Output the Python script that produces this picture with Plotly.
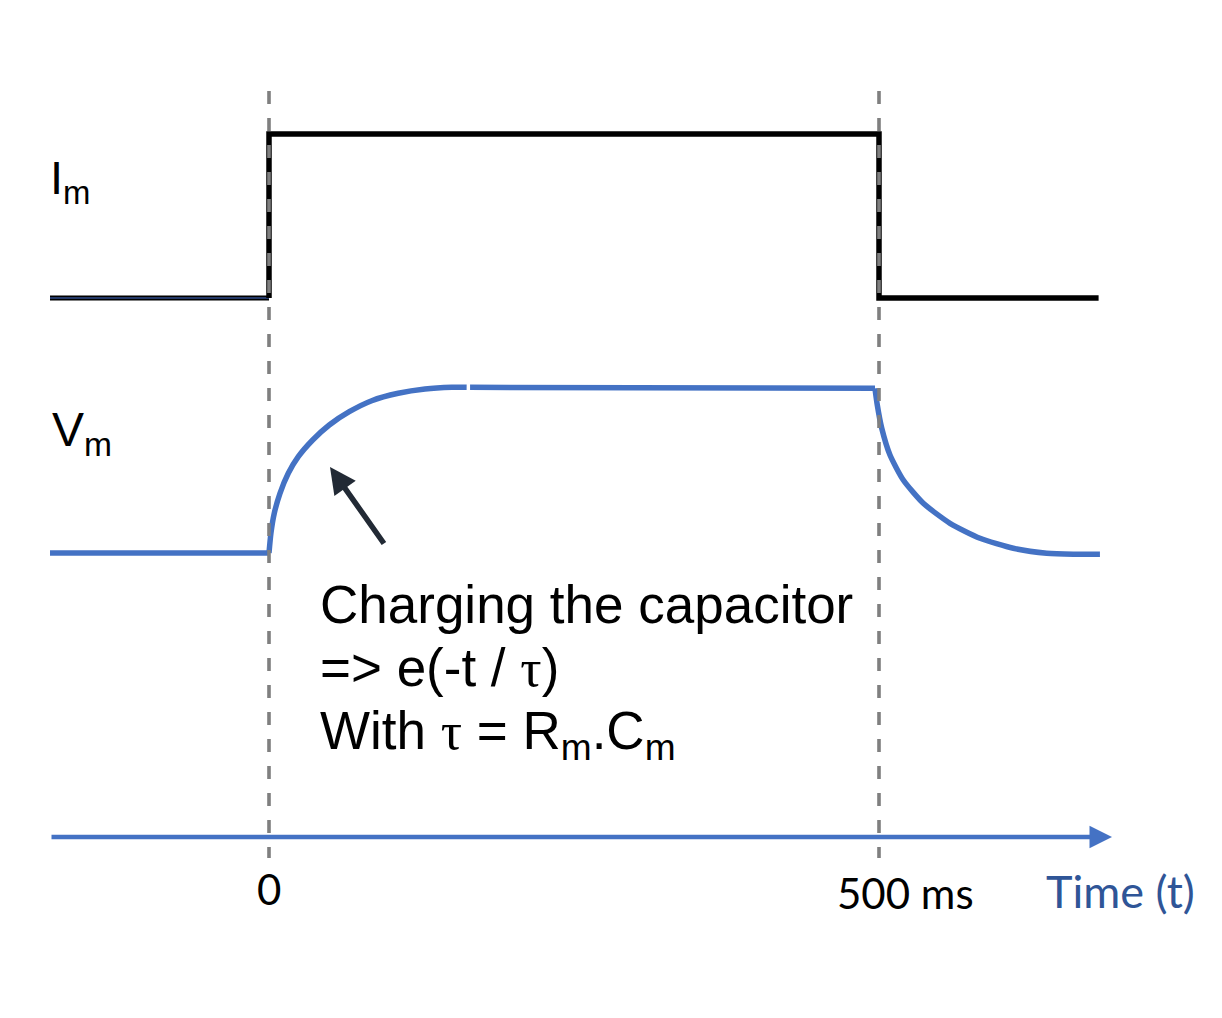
import plotly.graph_objects as go

# ---------------- data (time in ms, levels in drawing units) ----------------
I_TIME = [-179.5, 0, 0, 500, 500, 680]
I_LEVEL = [720, 720, 884, 884, 720, 720]

V_PRE_TIME = [-179.5, 0]
V_PRE = [465, 465]
V_CHARGE_TIME = [0, 1.6, 4.3, 9.0, 15.8, 24.0, 35.8, 49.4, 65.8, 84.2, 105.9, 127.9, 149.8, 162.0]
V_CHARGE = [465, 485, 504.7, 524.7, 544.7, 561.3, 578, 593, 606.3, 617.3, 624.7, 629, 630.7, 630.7]
V_PLATEAU_TIME = [164.8, 496.7]
V_PLATEAU = [630.7, 629.7]
V_DECAY_TIME = [496.7, 498.6, 502.2, 509.0, 519.9, 536.3, 558.2, 582.8, 610.1, 637.5, 659.3, 681.1]
V_DECAY = [629.7, 613, 590, 563, 538, 514.7, 494.7, 479.7, 469.7, 464.7, 463.7, 463.7]

MARK_TIMES = [0, 500]
MARK_LABELS = ["0", "500 ms"]

# ---------------- geometry helpers (screen pixel -> data) ----------------
SW, SH = 1222, 1018          # screen size
OFF = 8                      # page body margin
W, H = SW - OFF, SH - OFF    # figure size
X0PX, SCALE = 269, 1.22


def tx(px):
    return (px - X0PX) / SCALE


def ty(py):
    return SH - py


BLUE = "#4472C4"
BLACK = "#000000"
GRAY = "#7F7F7F"

fig = go.Figure()

# V_m trace
for xs, ys in [(V_PRE_TIME, V_PRE), (V_CHARGE_TIME, V_CHARGE),
               (V_PLATEAU_TIME, V_PLATEAU), (V_DECAY_TIME, V_DECAY)]:
    fig.add_trace(go.Scatter(x=xs, y=ys, mode="lines",
                             line=dict(color=BLUE, width=5.5, shape="spline", smoothing=0.6),
                             hoverinfo="skip", showlegend=False))

# I_m trace
fig.add_trace(go.Scatter(x=I_TIME[:2], y=I_LEVEL[:2], mode="lines",
                         line=dict(color=BLACK, width=5), hoverinfo="skip", showlegend=False))
fig.add_trace(go.Scatter(x=I_TIME[:2], y=I_LEVEL[:2], mode="lines",
                         line=dict(color="#2F4B8A", width=1.6), hoverinfo="skip", showlegend=False))
fig.add_trace(go.Scatter(x=I_TIME[1:], y=I_LEVEL[1:], mode="lines",
                         line=dict(color=BLACK, width=5.5), hoverinfo="skip", showlegend=False))

# dashed markers
for t in MARK_TIMES:
    fig.add_trace(go.Scatter(x=[t, t], y=[ty(91), ty(858)], mode="lines",
                             line=dict(color=GRAY, width=3.6, dash="13px,14px"),
                             hoverinfo="skip", showlegend=False))

ann = []
# time axis arrow
ann.append(dict(x=tx(1112), y=ty(837), ax=tx(50), ay=ty(837), xref="x", yref="y",
                axref="x", ayref="y", text="", showarrow=True, arrowhead=2,
                arrowwidth=4.5, arrowsize=1.0, arrowcolor=BLUE))
# charging arrow
ann.append(dict(x=tx(330), y=ty(467), ax=tx(385), ay=ty(545), xref="x", yref="y",
                axref="x", ayref="y", text="", showarrow=True, arrowhead=2,
                arrowwidth=5.5, arrowsize=0.95, arrowcolor="#222A35"))

SANS = "Liberation Sans, Arial, sans-serif"
CAL = "Lato, Calibri, sans-serif"

ann.append(dict(x=tx(48), y=ty(181), xref="x", yref="y", xanchor="left", yanchor="middle",
                text="I<sub>m</sub>", showarrow=False, font=dict(family=SANS, size=47, color=BLACK)))
ann.append(dict(x=tx(50), y=ty(433), xref="x", yref="y", xanchor="left", yanchor="middle",
                text="V<sub>m</sub>", showarrow=False, font=dict(family=SANS, size=48, color=BLACK)))

TAU = '<span style="font-family:Liberation Serif, Times New Roman, serif">τ</span>'
lines = ["Charging the capacitor",
         "=> e(-t / " + TAU + ")",
         "With " + TAU + " = R<sub>m</sub>.C<sub>m</sub>"]
centers = [604, 667, 734]
for txt, c in zip(lines, centers):
    ann.append(dict(x=tx(318), y=ty(c), xref="x", yref="y", xanchor="left", yanchor="middle",
                    text=txt, showarrow=False, font=dict(family=SANS, size=53, color=BLACK)))

for t, lab in zip(MARK_TIMES, MARK_LABELS):
    cx = t if lab == "0" else tx(905)
    cy = 889 if lab == "0" else 893
    ann.append(dict(x=cx, y=ty(cy), xref="x", yref="y", xanchor="center", yanchor="middle",
                    text=lab, showarrow=False, font=dict(family=CAL, size=42, color=BLACK)))

ann.append(dict(x=tx(1120), y=ty(891), xref="x", yref="y", xanchor="center", yanchor="middle",
                text="Time (t)", showarrow=False, font=dict(family=CAL, size=45, color="#2F5597")))

fig.update_layout(
    width=W, height=H, margin=dict(l=0, r=0, t=0, b=0),
    paper_bgcolor="white", plot_bgcolor="white",
    xaxis=dict(range=[tx(OFF), tx(SW)], visible=False, fixedrange=True),
    yaxis=dict(range=[ty(SH), ty(OFF)], visible=False, fixedrange=True),
    annotations=ann, showlegend=False,
)

fig.write_html("out.html")
